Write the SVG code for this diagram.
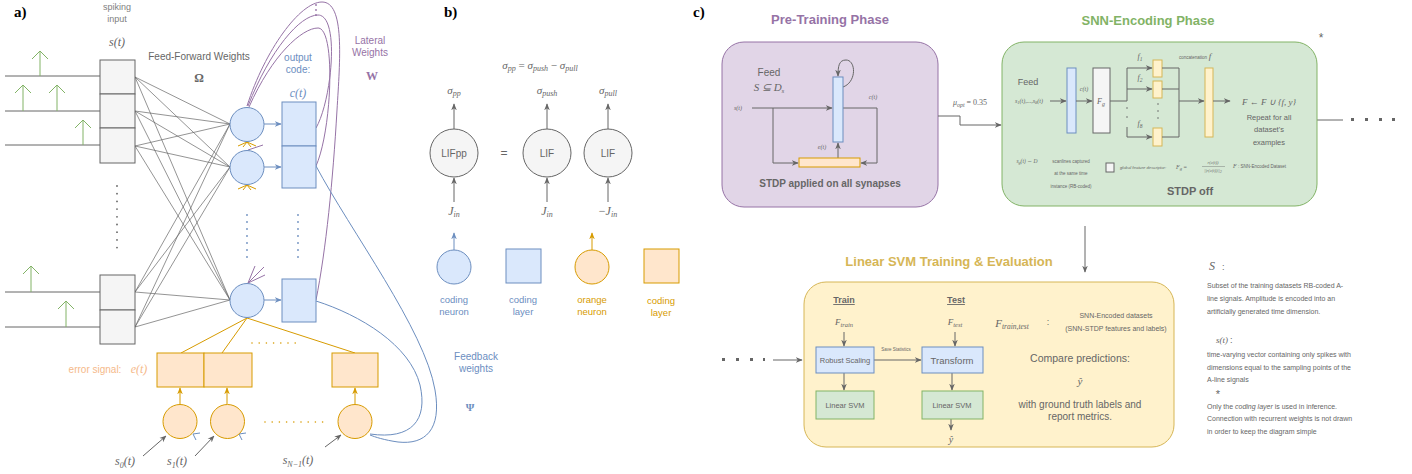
<svg xmlns="http://www.w3.org/2000/svg" width="1412" height="474" viewBox="0 0 1412 474">
<defs>
<marker id="ag" viewBox="0 0 10 10" refX="9" refY="5" markerWidth="7" markerHeight="7" orient="auto"><path d="M0,1 L10,5 L0,9 L3,5 z" fill="#666"/></marker>
<marker id="ab" viewBox="0 0 10 10" refX="9" refY="5" markerWidth="7" markerHeight="7" orient="auto"><path d="M0,1 L10,5 L0,9 L3,5 z" fill="#6c8ebf"/></marker>
<marker id="ao" viewBox="0 0 10 10" refX="9" refY="5" markerWidth="7" markerHeight="7" orient="auto"><path d="M0,1 L10,5 L0,9 L3,5 z" fill="#d79b00"/></marker>
</defs>
<style>
.sans{font-family:"Liberation Sans",Arial,sans-serif}
.math{font-family:"Liberation Serif","Times New Roman",serif;font-style:italic}
.ttl{font-family:"Liberation Serif",serif;font-weight:bold;font-size:15px;fill:#000}
.g{fill:#666}
.inp{fill:#f5f5f5;stroke:#666;stroke-width:1}
.bn{fill:#dae8fc;stroke:#6c8ebf;stroke-width:1}
.on{fill:#ffe6cc;stroke:#d79b00;stroke-width:1}
.gn{fill:#d5e8d4;stroke:#82b366;stroke-width:1}
.yn{fill:#fff2cc;stroke:#d6b656;stroke-width:1}
.ff{stroke:#666;stroke-width:0.7;fill:none}
.ln{stroke:#666;stroke-width:1;fill:none}
.ga{stroke:#666;stroke-width:1;fill:none;marker-end:url(#ag)}
.ba{stroke:#6c8ebf;stroke-width:1;fill:none;marker-end:url(#ab)}
.oa{stroke:#d79b00;stroke-width:1;fill:none;marker-end:url(#ao)}
.spk{stroke:#82b366;stroke-width:1;fill:none}
.pur{stroke:#9673a6;stroke-width:1;fill:none}
.blu{stroke:#6c8ebf;stroke-width:1;fill:none}
.org{stroke:#d79b00;stroke-width:1;fill:none}
</style>

<!-- ============ PANEL A ============ -->
<g id="panel-a-labels">
<text x="14" y="17" class="ttl">a)</text>
<text x="117" y="10" class="sans" font-size="9" fill="#808080" text-anchor="middle">spiking</text>
<text x="117" y="22" class="sans" font-size="9" fill="#808080" text-anchor="middle">input</text>
<text x="117" y="46" class="math g" font-size="12" text-anchor="middle">s(t)</text>
<text x="199" y="60" class="sans g" font-size="10" text-anchor="middle">Feed-Forward Weights</text>
<text x="199" y="82" font-family="Liberation Serif,serif" font-weight="bold" font-size="12" fill="#666" text-anchor="middle">Ω</text>
<text x="298" y="61" class="sans" font-size="10" fill="#6c8ebf" text-anchor="middle">output</text>
<text x="298" y="73" class="sans" font-size="10" fill="#6c8ebf" text-anchor="middle">code:</text>
<text x="298" y="97" class="math" font-size="12" fill="#6c8ebf" text-anchor="middle">c(t)</text>
<text x="370" y="44" class="sans" font-size="10" fill="#9673a6" text-anchor="middle">Lateral</text>
<text x="370" y="56" class="sans" font-size="10" fill="#9673a6" text-anchor="middle">Weights</text>
<text x="372" y="80" font-family="Liberation Serif,serif" font-weight="bold" font-size="12" fill="#9673a6" text-anchor="middle">W</text>
<text x="95" y="373" class="sans" font-size="10" fill="#f5b98a" text-anchor="middle">error signal:</text>
<text x="139" y="373" class="math" font-size="12" fill="#f5b98a" text-anchor="middle">e(t)</text>
<text x="476" y="360" class="sans" font-size="10" fill="#6c8ebf" text-anchor="middle">Feedback</text>
<text x="476" y="372" class="sans" font-size="10" fill="#6c8ebf" text-anchor="middle">weights</text>
<text x="470" y="411" font-family="Liberation Serif,serif" font-weight="bold" font-size="11" fill="#6c8ebf" text-anchor="middle">Ψ</text>
<text x="125" y="465" class="math g" font-size="12" text-anchor="middle">s<tspan font-size="8" dy="3">0</tspan><tspan dy="-3">(t)</tspan></text>
<text x="177" y="465" class="math g" font-size="12" text-anchor="middle">s<tspan font-size="8" dy="3">1</tspan><tspan dy="-3">(t)</tspan></text>
<text x="298" y="464" class="math g" font-size="12" text-anchor="middle">s<tspan font-size="8" dy="3">N−1</tspan><tspan dy="-3">(t)</tspan></text>
</g>

<g id="connectors-a">
<path class="ln" d="M5,76H100 M5,111H100 M5,145H100 M5,292H100 M5,327H100"/>
<path class="spk" d="M40,76V51 M32,59L40,51L48,59 M23,111V85 M15,93L23,85L31,93 M57,111V85 M49,93L57,85L65,93 M83,145V120 M75,128L83,120L91,128 M31,292V266 M23,274L31,266L39,274 M66,327V301 M58,309L66,301L74,309"/>
<path class="ff" d="M135,77L230,124 M135,77L230,167 M135,77L230,300 M135,111L230,124 M135,111L230,167 M135,111L230,300 M135,146L230,124 M135,146L230,167 M135,146L230,300 M135,292L230,124 M135,292L230,167 M135,292L230,300 M135,327L230,124 M135,327L230,167 M135,327L230,300"/>
<path class="ba" d="M264,124H281"/>
<path class="ba" d="M264,167H281"/>
<path class="ba" d="M264,300H281"/>
<path class="pur" d="M247,106 C265,50 300,2 322,2 C345,2 340,60 337,110 C333,180 326,250 316,300"/>
<path class="pur" d="M248,106 C270,50 300,15 318,15 C340,15 332,100 316,128"/>
<path class="pur" d="M249,107 C272,55 302,28 318,28 C336,28 332,130 316,166"/>
<path class="pur" d="M248,150L263,145 M248,283L255,266 M248,283L264,267 M248,283L265,275"/>
<circle cx="316" cy="5" r="0.9" fill="#9673a6"/><circle cx="316" cy="10" r="0.9" fill="#9673a6"/><circle cx="316" cy="15" r="0.9" fill="#9673a6"/>
<path class="org" d="M238,146L247,142L256,146 M243,147L247,142L251,147 M238,189L247,185L256,189 M243,190L247,185L251,190" stroke="#f0b43c"/>
<path class="blu" d="M316,166 C350,230 425,330 435,390 C442,430 425,445 398,442 C384,440 375,437 370,435"/>
<path class="blu" d="M316,301 C360,315 410,345 420,385 C428,420 412,440 370,434"/>
<path class="blu" d="M200,433L193,434L196,440 M246,433L239,434L242,440"/>
<path class="org" d="M247,318L181,353 M247,318L222,353 M247,318L355,353"/>
<path class="oa" d="M180,404V388"/>
<path class="oa" d="M227,404V388"/>
<path class="oa" d="M355,404V388"/>
<line x1="117" y1="186" x2="117" y2="250" stroke="#666" stroke-width="1.8" stroke-linecap="round" stroke-dasharray="0,7.7"/>
<line x1="247" y1="215" x2="247" y2="258" stroke="#6c8ebf" stroke-width="1.8" stroke-linecap="round" stroke-dasharray="0,7"/>
<line x1="298" y1="215" x2="298" y2="258" stroke="#6c8ebf" stroke-width="1.8" stroke-linecap="round" stroke-dasharray="0,7"/>
<line x1="252" y1="343" x2="296" y2="343" stroke="#d79b00" stroke-width="1.6" stroke-linecap="round" stroke-dasharray="0,7.2"/>
<line x1="265" y1="422" x2="323" y2="422" stroke="#d79b00" stroke-width="1.6" stroke-linecap="round" stroke-dasharray="0,7.2"/>
<path class="ga" d="M143,456L166,436"/>
<path class="ga" d="M195,456L214,436"/>
<path class="ga" d="M325,447L341,435"/>
</g>

<g id="input-layer">
<rect class="inp" x="100" y="60" width="35" height="34"/>
<rect class="inp" x="100" y="94" width="35" height="34"/>
<rect class="inp" x="100" y="128" width="35" height="35"/>
<rect class="inp" x="100" y="275" width="35" height="35"/>
<rect class="inp" x="100" y="310" width="35" height="34"/>
</g>
<g id="coding-neurons">
<circle class="bn" cx="247" cy="124.5" r="17"/>
<circle class="bn" cx="247" cy="167.5" r="17"/>
<circle class="bn" cx="247" cy="300.5" r="17"/>
</g>
<g id="coding-layer">
<rect class="bn" x="282" y="102" width="34" height="44"/>
<rect class="bn" x="282" y="146" width="34" height="42"/>
<rect class="bn" x="282" y="279" width="34" height="43"/>
</g>
<g id="error-layer">
<rect class="on" x="157" y="353" width="47" height="34"/>
<rect class="on" x="204" y="353" width="48" height="34"/>
<rect class="on" x="332" y="353" width="46" height="34"/>
</g>
<g id="error-neurons">
<circle class="on" cx="180" cy="421.5" r="17"/>
<circle class="on" cx="227.5" cy="421.5" r="17"/>
<circle class="on" cx="355" cy="421.5" r="17"/>
</g>

<!-- ============ PANEL B ============ -->
<g id="panel-b">
<text x="444" y="17" class="ttl">b)</text>
<text x="540" y="69" class="math g" font-size="11" text-anchor="middle">σ<tspan font-size="8" dy="2">pp</tspan><tspan dy="-2" font-style="normal"> = </tspan>σ<tspan font-size="8" dy="2">push</tspan><tspan dy="-2" font-style="normal"> − </tspan>σ<tspan font-size="8" dy="2">pull</tspan></text>
<text x="454" y="94" class="math g" font-size="11" text-anchor="middle">σ<tspan font-size="8" dy="2">pp</tspan></text>
<text x="547" y="94" class="math g" font-size="11" text-anchor="middle">σ<tspan font-size="8" dy="2">push</tspan></text>
<text x="608" y="94" class="math g" font-size="11" text-anchor="middle">σ<tspan font-size="8" dy="2">pull</tspan></text>
<path class="ga" d="M454,129V104"/>
<path class="ga" d="M547,129V104"/>
<path class="ga" d="M608,129V104"/>
<path class="ga" d="M454,202V178"/>
<path class="ga" d="M547,202V178"/>
<path class="ga" d="M608,202V178"/>
<circle cx="454" cy="153" r="24" fill="#f5f5f5" stroke="#666"/>
<circle cx="547" cy="153" r="24" fill="#f5f5f5" stroke="#666"/>
<circle cx="608" cy="153" r="24" fill="#f5f5f5" stroke="#666"/>
<text x="454" y="157" class="sans g" font-size="10" text-anchor="middle">LIFpp</text>
<text x="547" y="157" class="sans g" font-size="10" text-anchor="middle">LIF</text>
<text x="608" y="157" class="sans g" font-size="10" text-anchor="middle">LIF</text>
<text x="504" y="157" class="sans g" font-size="12" text-anchor="middle">=</text>
<text x="454" y="215" class="math g" font-size="12" text-anchor="middle">J<tspan font-size="8" dy="2">in</tspan></text>
<text x="547" y="215" class="math g" font-size="12" text-anchor="middle">J<tspan font-size="8" dy="2">in</tspan></text>
<text x="608" y="215" class="math g" font-size="12" text-anchor="middle"><tspan font-style="normal">−</tspan>J<tspan font-size="8" dy="2">in</tspan></text>
</g>
<g id="legend">
<path class="ba" d="M454,250V233"/>
<circle class="bn" cx="454" cy="267" r="17"/>
<rect class="bn" x="506" y="249" width="35" height="34"/>
<path class="oa" d="M592,250V233"/>
<circle class="on" cx="592" cy="267" r="17"/>
<rect class="on" x="644" y="249" width="35" height="34"/>
<text x="454" y="303" class="sans" font-size="9.5" fill="#6c8ebf" text-anchor="middle">coding</text>
<text x="454" y="315" class="sans" font-size="9.5" fill="#6c8ebf" text-anchor="middle">neuron</text>
<text x="523" y="303" class="sans" font-size="9.5" fill="#6c8ebf" text-anchor="middle">coding</text>
<text x="523" y="315" class="sans" font-size="9.5" fill="#6c8ebf" text-anchor="middle">layer</text>
<text x="592" y="303" class="sans" font-size="9.5" fill="#d79b00" text-anchor="middle">orange</text>
<text x="592" y="315" class="sans" font-size="9.5" fill="#d79b00" text-anchor="middle">neuron</text>
<text x="661" y="304" class="sans" font-size="9.5" fill="#d79b00" text-anchor="middle">coding</text>
<text x="661" y="316" class="sans" font-size="9.5" fill="#d79b00" text-anchor="middle">layer</text>
</g>

<!-- ============ PANEL C ============ -->
<text x="693" y="17" class="ttl">c)</text>

<g id="pretraining">
<text x="830" y="24" class="sans" font-size="13" font-weight="bold" fill="#9673a6" text-anchor="middle">Pre-Training Phase</text>
<rect x="722" y="42" width="216" height="165" rx="22" fill="#e1d5e7" stroke="#9673a6"/>
<text x="769" y="76" class="sans g" font-size="10" text-anchor="middle">Feed</text>
<text x="769" y="91" class="math g" font-size="11" text-anchor="middle">S ⊆ D<tspan font-size="7" dy="2">s</tspan></text>
<text x="738" y="110" class="math g" font-size="6" text-anchor="middle">s(t)</text>
<text x="873" y="99" class="math g" font-size="6" text-anchor="middle">c(t)</text>
<text x="822" y="149" class="math g" font-size="6" text-anchor="middle">e(t)</text>
<path class="ga" d="M752,108H832"/>
<path class="ga" d="M773,108V163H798"/>
<path class="ga" d="M838,158V143"/>
<path class="ga" d="M843,108H877V163H861"/>
<path class="ga" d="M843,87 C857,82 856,60 846,60 C839,60 838,66 838,76"/>
<rect class="bn" x="833" y="77" width="10" height="65"/>
<rect class="on" x="799" y="158" width="61" height="9"/>
<text x="830" y="187" class="sans g" font-size="10" font-weight="bold" text-anchor="middle">STDP applied on all synapses</text>
</g>

<g id="connectors-c">
<path class="ga" d="M938,116H960V125H1001"/>
<text x="970" y="105" class="math g" font-size="8" text-anchor="middle">μ<tspan font-size="6" dy="2">opt</tspan><tspan dy="-2" font-style="normal"> = 0.35</tspan></text>
<path class="ga" d="M1085,226V272" stroke-width="1.4"/>
<path class="ln" d="M1317,120H1343" stroke="#999"/>
<path d="M1351,118h3v3h-3z M1365,118h3v3h-3z M1379,118h3v3h-3z M1392,118h3v3h-3z" fill="#666"/>
<path d="M722,358h3v3h-3z M736,358h3v3h-3z M750,358h3v3h-3z M763,358h2v3h-2z" fill="#666"/>
<path class="ga" d="M773,360H802"/>
</g>

<g id="snn-encoding">
<text x="1148" y="25" class="sans" font-size="13" font-weight="bold" fill="#82b366" text-anchor="middle">SNN-Encoding Phase</text>
<text x="1321" y="42" class="sans g" font-size="12" text-anchor="middle">*</text>
<rect x="1002" y="42" width="315" height="164" rx="22" fill="#d5e8d4" stroke="#82b366"/>
<text x="1028" y="85" class="sans g" font-size="9" text-anchor="middle">Feed</text>
<text x="1029" y="103" class="math g" font-size="6" text-anchor="middle">s<tspan font-size="4.5" dy="1">1</tspan><tspan dy="-1">(t),...,s</tspan><tspan font-size="4.5" dy="1">8</tspan><tspan dy="-1">(t)</tspan></text>
<path class="ga" d="M1050,101H1066"/>
<rect class="bn" x="1067" y="68" width="9" height="65"/>
<text x="1084" y="91" class="math g" font-size="6" text-anchor="middle">c(t)</text>
<path class="ga" d="M1076,101H1092"/>
<rect class="inp" x="1093" y="68" width="17" height="65"/>
<text x="1101" y="104" class="math g" font-size="8" text-anchor="middle">F<tspan font-size="6" dy="2">g</tspan></text>
<path class="ln" d="M1110,101H1127 M1127,68V101 M1127,127V137"/>
<path class="ga" d="M1127,68H1152"/>
<path class="ga" d="M1127,89H1152"/>
<path class="ga" d="M1127,137H1152"/>
<circle cx="1127" cy="108" r="0.8" fill="#666"/><circle cx="1127" cy="117" r="0.8" fill="#666"/>
<circle cx="1158" cy="104" r="0.8" fill="#666"/><circle cx="1158" cy="111" r="0.8" fill="#666"/><circle cx="1158" cy="118" r="0.8" fill="#666"/>
<text x="1140" y="59" class="math g" font-size="8" text-anchor="middle">f<tspan font-size="5.5" dy="2">1</tspan></text>
<text x="1140" y="80" class="math g" font-size="8" text-anchor="middle">f<tspan font-size="5.5" dy="2">2</tspan></text>
<text x="1140" y="126" class="math g" font-size="8" text-anchor="middle">f<tspan font-size="5.5" dy="2">8</tspan></text>
<text x="1193" y="59" class="sans g" font-size="4.5" text-anchor="middle">concatenation</text>
<rect class="yn" x="1153" y="60" width="9" height="17"/>
<rect class="yn" x="1153" y="81" width="9" height="17"/>
<rect class="yn" x="1153" y="128" width="9" height="18"/>
<path class="ln" d="M1162,68H1179 M1162,89H1179 M1162,137H1179 M1179,68V137"/>
<path class="ga" d="M1179,101H1204"/>
<text x="1210" y="59" class="math g" font-size="9" text-anchor="middle">f</text>
<rect class="yn" x="1205" y="68" width="8" height="69"/>
<path class="ga" d="M1213,101H1230"/>
<text x="1269" y="105" class="math g" font-size="9" text-anchor="middle">F ← F ∪ {f, y}</text>
<text x="1269" y="120" class="sans g" font-size="7.5" text-anchor="middle">Repeat for all</text>
<text x="1269" y="132" class="sans g" font-size="7.5" text-anchor="middle">dataset's</text>
<text x="1269" y="145" class="sans g" font-size="7.5" text-anchor="middle">examples</text>
<text x="1027" y="163" class="math g" font-size="5.5" text-anchor="middle">s<tspan font-size="4" dy="1">g</tspan><tspan dy="-1">(t) ∼ D</tspan></text>
<text x="1071" y="163" class="sans g" font-size="4.5" text-anchor="middle">scanlines captured</text>
<text x="1071" y="175" class="sans g" font-size="4.5" text-anchor="middle">at the same time</text>
<text x="1071" y="188" class="sans g" font-size="4.5" text-anchor="middle">instance (RB-coded)</text>
<rect class="inp" x="1106" y="163" width="8" height="9"/>
<text x="1120" y="169" class="sans g" font-size="4.2" font-style="italic">global feature descriptor:</text>
<text x="1176" y="169" class="math g" font-size="6">F<tspan font-size="4.5" dy="1">g</tspan><tspan dy="-1" font-style="normal"> = </tspan></text>
<text x="1213" y="164" class="math g" font-size="4.5" text-anchor="middle">r(c(t))</text>
<line x1="1202" y1="166.5" x2="1225" y2="166.5" stroke="#666" stroke-width="0.4"/>
<text x="1213" y="172" class="math g" font-size="4.5" text-anchor="middle">||r(c(t))||<tspan font-size="3.5" dy="1">2</tspan></text>
<text x="1233" y="168" class="math g" font-size="6">F<tspan font-style="normal" font-family="Liberation Sans,sans-serif" font-size="4.5"> : SNN-Encoded Dataset</tspan></text>
<text x="1190" y="195" class="sans g" font-size="11" font-weight="bold" text-anchor="middle">STDP off</text>
</g>

<g id="svm">
<text x="949" y="266" class="sans" font-size="13" font-weight="bold" fill="#d6b656" text-anchor="middle">Linear SVM Training &amp; Evaluation</text>
<rect x="804" y="282" width="370" height="165" rx="22" fill="#fff2cc" stroke="#d6b656"/>
<text x="844" y="303" class="sans g" font-size="9" font-weight="bold" text-anchor="middle" text-decoration="underline">Train</text>
<text x="956" y="303" class="sans g" font-size="9" font-weight="bold" text-anchor="middle" text-decoration="underline">Test</text>
<text x="844" y="325" class="math g" font-size="9" text-anchor="middle">F<tspan font-size="6.5" dy="2">train</tspan></text>
<text x="955" y="325" class="math g" font-size="9" text-anchor="middle">F<tspan font-size="6.5" dy="2">test</tspan></text>
<path class="ga" d="M844,332V346"/>
<path class="ga" d="M955,332V346"/>
<path class="ga" d="M844,373V390"/>
<path class="ga" d="M952,373V390"/>
<path class="ga" d="M951,419V430"/>
<path class="ga" d="M874,360H921"/>
<text x="896" y="351" class="sans g" font-size="4.5" text-anchor="middle">Save Statistics</text>
<rect class="bn" x="816" y="347" width="58" height="26"/>
<text x="845" y="363" class="sans g" font-size="7.5" text-anchor="middle">Robust Scaling</text>
<rect class="bn" x="922" y="347" width="61" height="26"/>
<text x="952" y="364" class="sans g" font-size="9.5" text-anchor="middle">Transform</text>
<rect class="gn" x="816" y="391" width="58" height="28"/>
<text x="845" y="408" class="sans g" font-size="7.5" text-anchor="middle">Linear SVM</text>
<rect class="gn" x="922" y="391" width="61" height="28"/>
<text x="952" y="408" class="sans g" font-size="7.5" text-anchor="middle">Linear SVM</text>
<text x="951" y="443" class="math g" font-size="10" text-anchor="middle">ŷ</text>
<text x="1012" y="327" class="math g" font-size="11" text-anchor="middle">F<tspan font-size="7.5" dy="2">train,test</tspan></text>
<text x="1048" y="325" class="sans g" font-size="9" text-anchor="middle">:</text>
<text x="1116" y="318" class="sans g" font-size="7" text-anchor="middle">SNN-Encoded datasets</text>
<text x="1116" y="331" class="sans g" font-size="7" text-anchor="middle">(SNN-STDP features and labels)</text>
<text x="1080" y="362" class="sans g" font-size="10.5" text-anchor="middle">Compare predictions:</text>
<text x="1080" y="385" class="math g" font-size="11" text-anchor="middle">ŷ</text>
<text x="1080" y="408" class="sans g" font-size="10" text-anchor="middle">with ground truth labels and</text>
<text x="1080" y="420" class="sans g" font-size="10" text-anchor="middle">report metrics.</text>
</g>

<g id="notes">
<text x="1209" y="270" class="math g" font-size="12">S</text>
<text x="1222" y="270" class="sans g" font-size="9">:</text>
<text x="1207" y="288" class="sans g" font-size="7">Subset of the training datasets RB-coded A-</text>
<text x="1207" y="301" class="sans g" font-size="7">line signals. Amplitude is encoded into an</text>
<text x="1207" y="314" class="sans g" font-size="7">artificially generated time dimension.</text>
<text x="1216" y="343" class="math g" font-size="9">s(t)</text>
<text x="1230" y="343" class="sans g" font-size="9">:</text>
<text x="1207" y="357" class="sans g" font-size="7">time-varying vector containing only spikes with</text>
<text x="1207" y="370" class="sans g" font-size="7">dimensions equal to the sampling points of the</text>
<text x="1207" y="382" class="sans g" font-size="7">A-line signals</text>
<text x="1218" y="398" class="sans g" font-size="11" text-anchor="middle">*</text>
<text x="1207" y="409" class="sans g" font-size="7">Only the <tspan font-style="italic">coding layer</tspan> is used in inference.</text>
<text x="1207" y="421" class="sans g" font-size="7">Connection with recurrent weights is not drawn</text>
<text x="1207" y="434" class="sans g" font-size="7">in order to keep the diagram simple</text>
</g>
</svg>
